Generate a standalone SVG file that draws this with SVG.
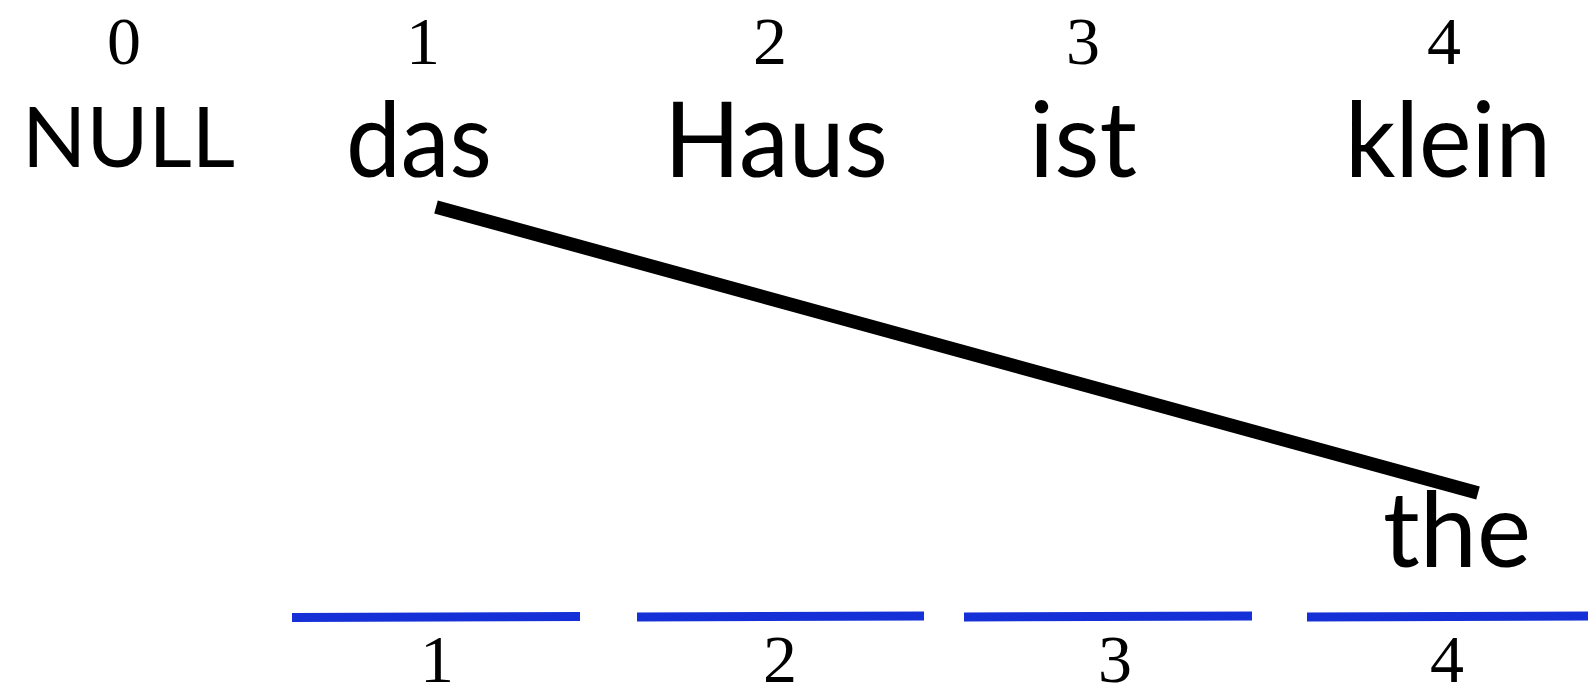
<svg xmlns="http://www.w3.org/2000/svg" width="1588" height="688" viewBox="0 0 1588 688">
  <style>
    .idx { font-family: "Liberation Serif", "Times New Roman", serif; font-size: 68px; fill: #000; text-anchor: middle; }
    .word { font-family: Lato, "Open Sans", "Liberation Sans", sans-serif; font-size: 105px; fill: #000; }
    .null { font-family: Lato, "Open Sans", "Liberation Sans", sans-serif; font-size: 83px; fill: #000; }
    .slot { stroke: #1430D6; stroke-width: 9; fill: none; }
    .align { stroke: #000; stroke-width: 13.5; stroke-linecap: butt; fill: none; }
  </style>
  <rect width="1588" height="688" fill="#fff"/>

  <g id="src-0">
    <text class="idx" x="124" y="64">0</text>
    <text class="null" x="22" y="167" textLength="213" lengthAdjust="spacingAndGlyphs">NULL</text>
  </g>
  <g id="src-1">
    <text class="idx" x="423" y="64">1</text>
    <text class="word" x="346" y="177" textLength="146" lengthAdjust="spacingAndGlyphs">das</text>
  </g>
  <g id="src-2">
    <text class="idx" x="770" y="64">2</text>
    <text class="word" x="664" y="177" textLength="224" lengthAdjust="spacingAndGlyphs">Haus</text>
  </g>
  <g id="src-3">
    <text class="idx" x="1083" y="64">3</text>
    <text class="word" x="1029" y="177" textLength="108" lengthAdjust="spacingAndGlyphs">ist</text>
  </g>
  <g id="src-4">
    <text class="idx" x="1444" y="64">4</text>
    <text class="word" x="1345" y="177" textLength="206" lengthAdjust="spacingAndGlyphs">klein</text>
  </g>

  <g id="tgt-the">
    <text class="word" x="1383" y="567" textLength="148" lengthAdjust="spacingAndGlyphs">the</text>
  </g>

  <g id="slot-1">
    <line class="slot" x1="292" y1="617.5" x2="580" y2="616.5"/>
    <text class="idx" x="437" y="682">1</text>
  </g>
  <g id="slot-2">
    <line class="slot" x1="637" y1="617" x2="924" y2="616"/>
    <text class="idx" x="780" y="682">2</text>
  </g>
  <g id="slot-3">
    <line class="slot" x1="964" y1="617" x2="1252" y2="616"/>
    <text class="idx" x="1115" y="682">3</text>
  </g>
  <g id="slot-4">
    <line class="slot" x1="1307" y1="617" x2="1588" y2="616"/>
    <text class="idx" x="1447" y="682">4</text>
  </g>

  <g id="connectors">
    <line class="align" x1="436" y1="207" x2="1478" y2="493"/>
  </g>
</svg>
